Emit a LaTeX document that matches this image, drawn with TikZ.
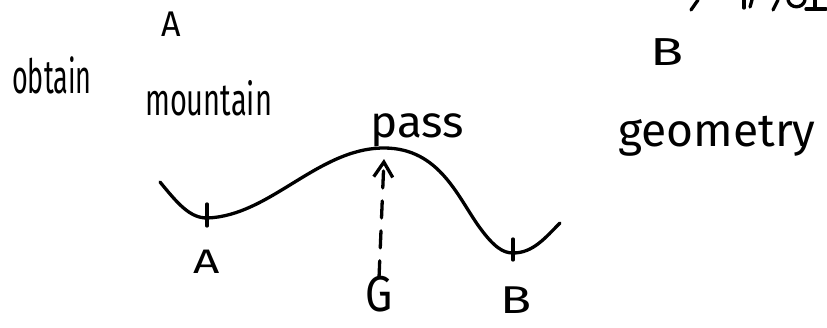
\documentclass[tikz,border=0pt]{standalone}
\usepackage{fontspec}
\setmainfont{Fira Sans}
\usetikzlibrary{arrows.meta}
\newcommand{\stretchtxt}[3]{\scalebox{#1}[#2]{#3}}
\tikzset{
  ink/.style={line width=3.3pt, line cap=round, line join=round},
  word/.style={inner sep=0pt, anchor=base west},
  lbl/.style={inner sep=0pt},
}
\begin{document}
\begin{tikzpicture}[x=1pt,y=-1pt]
\useasboundingbox (0,0) rectangle (827,327);
\clip (0,0) rectangle (827,327);
% cut-off handwriting fragments at the top right edge
\coordinate (f1a) at (698,0); \coordinate (f1b) at (691,10);
\coordinate (f2a) at (744,0); \coordinate (f2b) at (744,8);
\coordinate (f3a) at (752,0); \coordinate (f3b) at (750,7);
\coordinate (f4a) at (778,0); \coordinate (f4b) at (773,10);
\coordinate (f5a) at (788,0); \coordinate (f5b) at (805,0);
\coordinate (f6a) at (815,0); \coordinate (f6b) at (815,9);
\coordinate (f7a) at (806,9); \coordinate (f7b) at (826,9);
\draw[ink] (f1a) -- (f1b);
\draw[ink] (f2a) -- (f2b);
\draw[ink] (f3a) -- (f3b);
\draw[ink] (f4a) -- (f4b);
\draw[ink] (f5a) .. controls (790,9) and (803,9) .. (f5b);
\draw[ink] (f6a) -- (f6b);
\draw[ink] (f7a) -- (f7b);
% top letters
\node[lbl, font=\fontsize{34}{34}\selectfont] (tA) at (171,24) {\stretchtxt{1}{1.05}{A}};
\node[lbl, font=\fontsize{39}{39}\selectfont] (tB) at (667,52) {\stretchtxt{1.4}{1}{B}};
% words
\node[word, font=\fontsize{27}{27}\selectfont] (w1) at (12,93) {\stretchtxt{1}{1.75}{obtain}};
\node[word, font=\fontsize{29}{29}\selectfont] (w2) at (145,115) {\stretchtxt{1}{1.55}{mountain}};
\node[word, font=\fontsize{34}{34}\selectfont] (w3) at (370,137) {\stretchtxt{1.35}{1.3}{pass}};
\node[word, font=\fontsize{42}{42}\selectfont] (w4) at (618,146) {\stretchtxt{1.1}{1.1}{geometry}};
% curve
\coordinate (s) at (160,182);
\coordinate (amin) at (207,218);
\coordinate (peak) at (384,148);
\coordinate (bmin) at (513,253);
\coordinate (e) at (560,223);
\draw[ink] (s) .. controls (178,204) and (190,218) .. (amin)
  .. controls (270,216) and (318,148) .. (peak)
  .. controls (440,148) and (458,198) .. (480,228)
  .. controls (494,247) and (503,253) .. (bmin)
  .. controls (533,253) and (545,238) .. (e);
% ticks
\draw[ink] ([yshift=-8pt]amin) -- ([yshift=14pt]amin);
\draw[ink] ([yshift=-7pt]bmin) -- ([yshift=14pt]bmin);
% labels
\node[lbl, font=\fontsize{34}{34}\selectfont] (lA) at (207,262) {\stretchtxt{1.35}{1}{A}};
\node[lbl, font=\fontsize{36}{36}\selectfont] (lG) at (379,294) {\stretchtxt{1.2}{1.4}{G}};
\node[lbl, font=\fontsize{38}{38}\selectfont] (lB) at (516,300) {\stretchtxt{1.35}{1.02}{B}};
% dashed arrow
\coordinate (tip) at (384,159);
\draw[ink, dash pattern=on 17pt off 13pt, -{Straight Barb[length=15pt,width=19pt,line width=3.3pt]}] ([yshift=-2pt]lG.north) -- (tip);
\end{tikzpicture}
\end{document}
